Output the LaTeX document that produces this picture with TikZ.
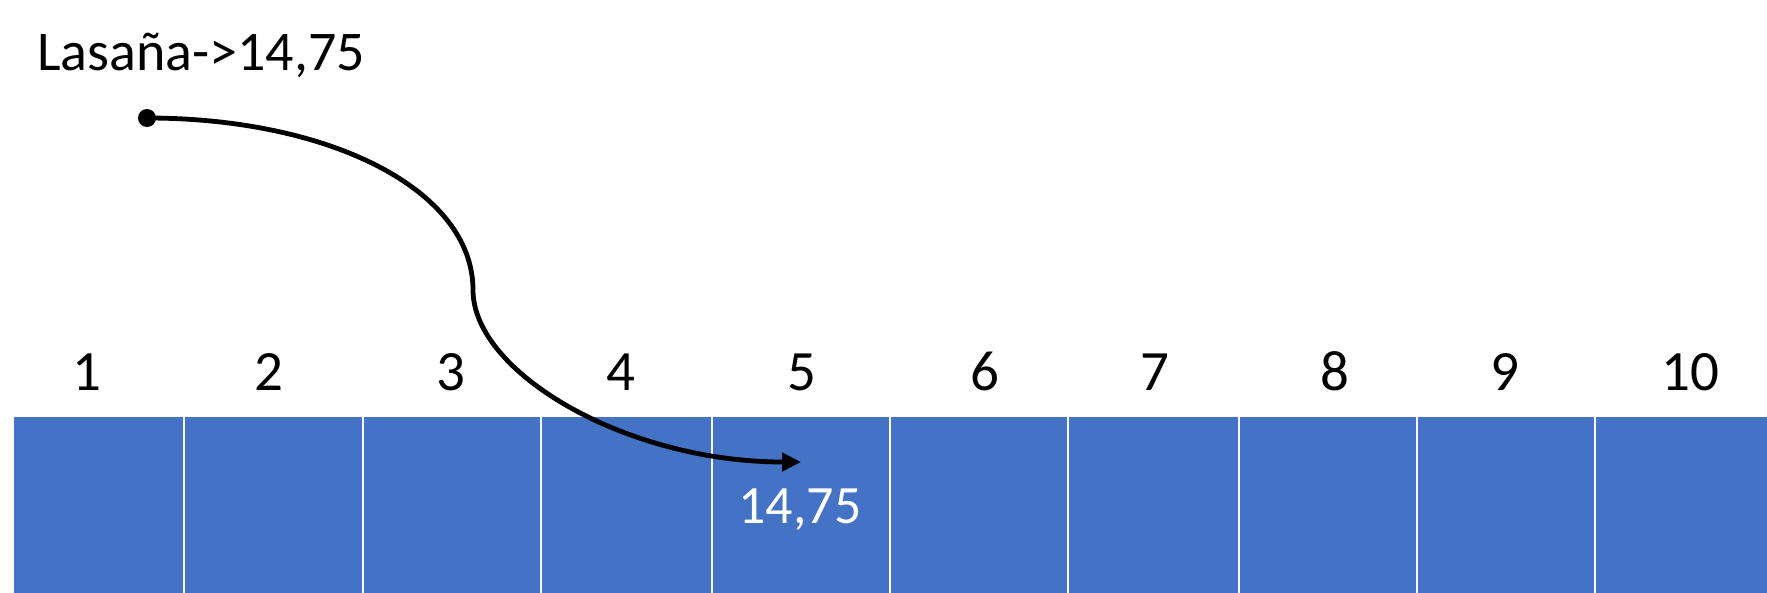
\documentclass[tikz,border=0pt]{standalone}
\usepackage{fontspec}
\setmainfont{Carlito}
\usetikzlibrary{arrows.meta}
\definecolor{cellblue}{HTML}{4472C4}
\begin{document}
\begin{tikzpicture}[x=1pt,y=-1pt,
  cellbox/.style={fill=cellblue,draw=white,line width=2pt,inner sep=0pt,anchor=north west,minimum height=185pt},
  idx/.style={font=\fontsize{57}{60}\selectfont,anchor=base,inner sep=0pt},
  conn/.style={line width=4.8pt,-{Triangle[length=19pt,width=18pt]}}]
\fill[white] (0,0) rectangle (1767,592);
\useasboundingbox (0,0) rectangle (1767,592);
% cells
\foreach \i/\a/\b in {1/12/182.5,2/182.5/361.6,3/361.6/539.6,4/539.6/710.7,5/710.7/888.6,6/888.6/1066.7,7/1066.7/1238,8/1238/1416,9/1416/1594,10/1594/1775}{
  \pgfmathsetmacro{\w}{\b-\a}
  \node[cellbox,minimum width=\w pt] (c\i) at (\a,415) {};
}
% indices
\foreach \i/\x in {1/87,2/269,3/451,4/621,5/802,6/985,7/1155,8/1335,9/1505,10/1690}{
  \node[idx] (n\i) at (\x,390) {\i};
}
% title
\node[font=\fontsize{56}{60}\selectfont,anchor=base west,inner sep=0pt] (title) at (37,70) {Lasaña->14,75};
% value in cell 5
\node[font=\fontsize{54}{58}\selectfont,text=white,anchor=base,inner sep=0pt] (val) at (800,523) {14,75};
% pointer
\node[circle,fill=black,inner sep=0pt,minimum size=18pt] (dot) at (147,118) {};
\coordinate (mid) at (473,290);
\coordinate (tip) at (801,462);
\draw[conn] (dot.center) .. controls (330,118) and (473,190) .. (mid) .. controls (473,372) and (625,462) .. (tip);
\end{tikzpicture}
\end{document}
